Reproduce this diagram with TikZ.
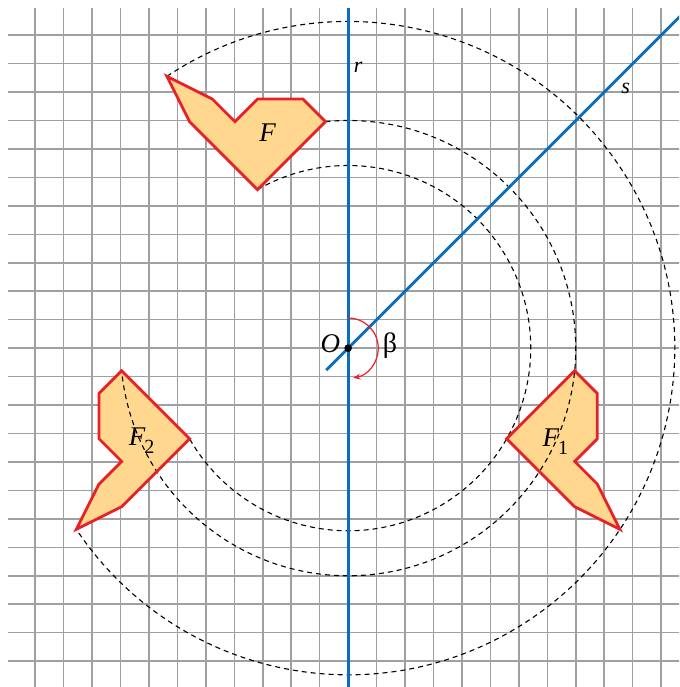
\documentclass[tikz,border=0pt]{standalone}
\usepackage{fontspec}
\setmainfont{Liberation Serif}
\usetikzlibrary{arrows.meta}
\definecolor{gridgray}{RGB}{160,160,160}
\definecolor{figfill}{RGB}{255,215,143}
\definecolor{figred}{RGB}{232,32,40}
\definecolor{axisblue}{RGB}{10,110,190}
\begin{document}
\begin{tikzpicture}[x=22.65pt,y=22.65pt,
 gridline/.style={draw=gridgray,line width=1.5pt},
 figfillstyle/.style={fill=figfill},
 figedge/.style={draw=figred,line width=2.8pt},
 orbit/.style={draw=black,line width=1.1pt,dash pattern=on 5pt off 4pt},
 axisline/.style={draw=axisblue,line width=2.8pt},
 betaarc/.style={draw=figred,line width=1.2pt,-{Stealth[length=7pt,width=6pt]}},
 lbl/.style={font=\fontsize{27}{30}\selectfont\itshape,inner sep=0pt},
 lblsmall/.style={font=\fontsize{22}{24}\selectfont\itshape,inner sep=0pt},
 lblup/.style={font=\fontsize{28}{30}\selectfont,inner sep=0pt}]
\useasboundingbox (-15.37,-14.96) rectangle (14.61,15.37);
\clip (-15.37,-14.96) rectangle (14.61,15.37);
% grid
\draw[gridline] (-15,-16) grid (15,15);
% key points
\coordinate (O) at (0,0);
\coordinate (Ftip) at (-8,12);
\coordinate (Fright) at (-1,10);
\coordinate (Fbot) at (-4,7);
% fills
\path[figfillstyle] (-8,12) -- (-6,11) -- (-5,10) -- (-4,11) -- (-2,11) -- (-1,10) -- (-4,7) -- (-7,10) -- cycle;
\path[figfillstyle] (12,-8) -- (11,-6) -- (10,-5) -- (11,-4) -- (11,-2) -- (10,-1) -- (7,-4) -- (10,-7) -- cycle;
\path[figfillstyle] (-12,-8) -- (-11,-6) -- (-10,-5) -- (-11,-4) -- (-11,-2) -- (-10,-1) -- (-7,-4) -- (-10,-7) -- cycle;
% dashed orbits
\draw[orbit] (Ftip) arc[start angle=123.69, end angle=-146.31, radius=14.4222];
\draw[orbit] (Fright) arc[start angle=95.71, end angle=-174.29, radius=10.0499];
\draw[orbit] (Fbot) arc[start angle=119.74, end angle=-150.26, radius=8.0623];
% outlines
\draw[figedge] (-8,12) -- (-6,11) -- (-5,10) -- (-4,11) -- (-2,11) -- (-1,10) -- (-4,7) -- (-7,10) -- cycle;
\draw[figedge] (12,-8) -- (11,-6) -- (10,-5) -- (11,-4) -- (11,-2) -- (10,-1) -- (7,-4) -- (10,-7) -- cycle;
\draw[figedge] (-12,-8) -- (-11,-6) -- (-10,-5) -- (-11,-4) -- (-11,-2) -- (-10,-1) -- (-7,-4) -- (-10,-7) -- cycle;
% axes r and s
\coordinate (rtop) at (0,15);
\coordinate (rbot) at (0,-16);
\coordinate (sbot) at (-0.97,-0.97);
\coordinate (stop) at (16,16);
\draw[axisline] (rtop) -- (rbot);
\draw[axisline] (sbot) -- (stop);
% angle beta
\draw[betaarc] (O) ++(90:1.33) arc[start angle=90, end angle=-80, radius=1.33];
\fill[black] (O) circle[radius=3.8pt];
% labels
\node[lblsmall] (rlab) at (0.44,12.42) {r};
\node[lblsmall] (slab) at (12.25,11.45) {s};
\node[lbl] (Olab) at (-0.78,0.2) {O};
\node[lblup] (blab) at (1.85,0.1) {β};
\node[lbl] (Flab) at (-3.55,9.52) {F};
\node[lbl] (F1lab) at (9.15,-4.12) {F\kern-1pt\raisebox{-0.3em}{\upshape\fontsize{20}{20}\selectfont 1}};
\node[lbl] (F2lab) at (-9.12,-4.08) {F\kern-1pt\raisebox{-0.3em}{\upshape\fontsize{20}{20}\selectfont 2}};
\end{tikzpicture}
\end{document}
